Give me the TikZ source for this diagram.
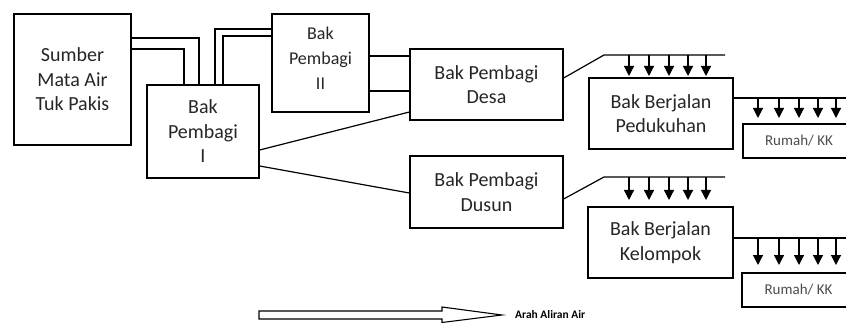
\documentclass[tikz,border=0pt]{standalone}
\usepackage{fontspec}
\setmainfont{Carlito}
\usetikzlibrary{arrows.meta}
\begin{document}
\begin{tikzpicture}[x=1pt,y=-1pt,
 box/.style={draw,line width=1.3pt,inner sep=0pt,align=center,text=black!85,font=\fontsize{20}{24.5}\selectfont},
 ln/.style={line width=1.2pt},
 drop/.style={line width=1.2pt,-{Triangle[length=10pt,width=10pt]}},
]
\clip (0,0) rectangle (846,323);
\fill[white] (0,0) rectangle (846,323);
% boxes
\node[box,minimum width=117pt,minimum height=131pt] (sumber) at (72.5,79.5) {Sumber\\Mata Air\\Tuk Pakis};
\node[box,minimum width=112pt,minimum height=93pt] (bak1) at (203,131.5) {Bak\\Pembagi\\I};
\node[box,minimum width=97pt,minimum height=98pt,font=\fontsize{18}{25}\selectfont,text depth=10pt] (bak2) at (320.5,63) {Bak\\Pembagi\\II};
\node[box,minimum width=153pt,minimum height=71pt] (desa) at (486.5,84.5) {Bak Pembagi\\Desa};
\node[box,minimum width=153pt,minimum height=72pt] (dusun) at (486.5,192) {Bak Pembagi\\Dusun};
\node[box,minimum width=144pt,minimum height=71pt] (ped) at (661,113.5) {Bak Berjalan\\Pedukuhan};
\node[box,minimum width=145pt,minimum height=71pt] (kel) at (660.5,242.5) {Bak Berjalan\\Kelompok};
\node[box,minimum width=112pt,minimum height=34pt,text=black!70,font=\fontsize{15}{18}\selectfont] (rumah1) at (799,141) {Rumah/ KK};
\node[box,minimum width=113pt,minimum height=34pt,text=black!70,font=\fontsize{15}{18}\selectfont] (rumah2) at (798.5,290) {Rumah/ KK};
% helper levels
\coordinate (y38) at (0,38);
\coordinate (y49) at (0,49);
\coordinate (y29) at (0,29);
\coordinate (y36) at (0,36);
\coordinate (y56) at (0,56);
\coordinate (y91) at (0,91);
\coordinate (y150) at (0,150);
\coordinate (y112) at (0,112);
\coordinate (y166) at (0,166);
\coordinate (y193) at (0,193);
\coordinate (y78) at (0,78);
\coordinate (y199) at (0,199);
\coordinate (y98) at (0,98);
\coordinate (y238) at (0,238);
% source to Bak I
\draw[ln] (sumber.east |- y38) -| ([xshift=-4pt]bak1.north);
\draw[ln] (sumber.east |- y49) -| ([xshift=-19pt]bak1.north);
% Bak I to Bak II
\draw[ln] ([xshift=12pt]bak1.north) |- (bak2.west |- y29);
\draw[ln] ([xshift=20pt]bak1.north) |- (bak2.west |- y36);
% Bak II to Desa
\draw[ln] (bak2.east |- y56) -- (desa.west |- y56);
\draw[ln] (bak2.east |- y91) -- (desa.west |- y91);
% Bak I to Desa / Dusun
\draw[ln] (bak1.east |- y150) -- (desa.west |- y112);
\draw[ln] (bak1.east |- y166) -- (dusun.west |- y193);
% Desa feed line
\coordinate (f1a) at (604,55);
\coordinate (f1b) at (725,55);
\draw[ln] (desa.east |- y78) -- (f1a) -- (f1b);
\foreach \x in {629,649,669,688,706} \draw[drop] (\x,55) -- (\x,76);
% Dusun feed line
\coordinate (f2a) at (604,177);
\coordinate (f2b) at (725,177);
\draw[ln] (dusun.east |- y199) -- (f2a) -- (f2b);
\foreach \x in {629,649,669,688,706} \draw[drop] (\x,177) -- (\x,200);
% Pedukuhan to Rumah
\coordinate (r1end) at (850,98);
\draw[ln] (ped.east |- y98) -- (r1end);
\foreach \x in {758,779,799,818,836} \draw[drop] (\x,98) -- (\x,118);
% Kelompok to Rumah
\coordinate (r2end) at (850,238);
\draw[ln] (kel.east |- y238) -- (r2end);
\foreach \x in {758,779,799,818,836} \draw[drop] (\x,238) -- (\x,265);
% legend
\draw[line width=1.1pt,line join=miter] (259,311) -- (442,311) -- (442,307) -- (502,315) -- (442,322.5) -- (442,319) -- (259,319) -- cycle;
\node[anchor=west,inner sep=0pt,font=\fontsize{11.5}{13}\selectfont\bfseries] (lbl) at (515,315) {Arah Aliran Air};
\end{tikzpicture}
\end{document}
